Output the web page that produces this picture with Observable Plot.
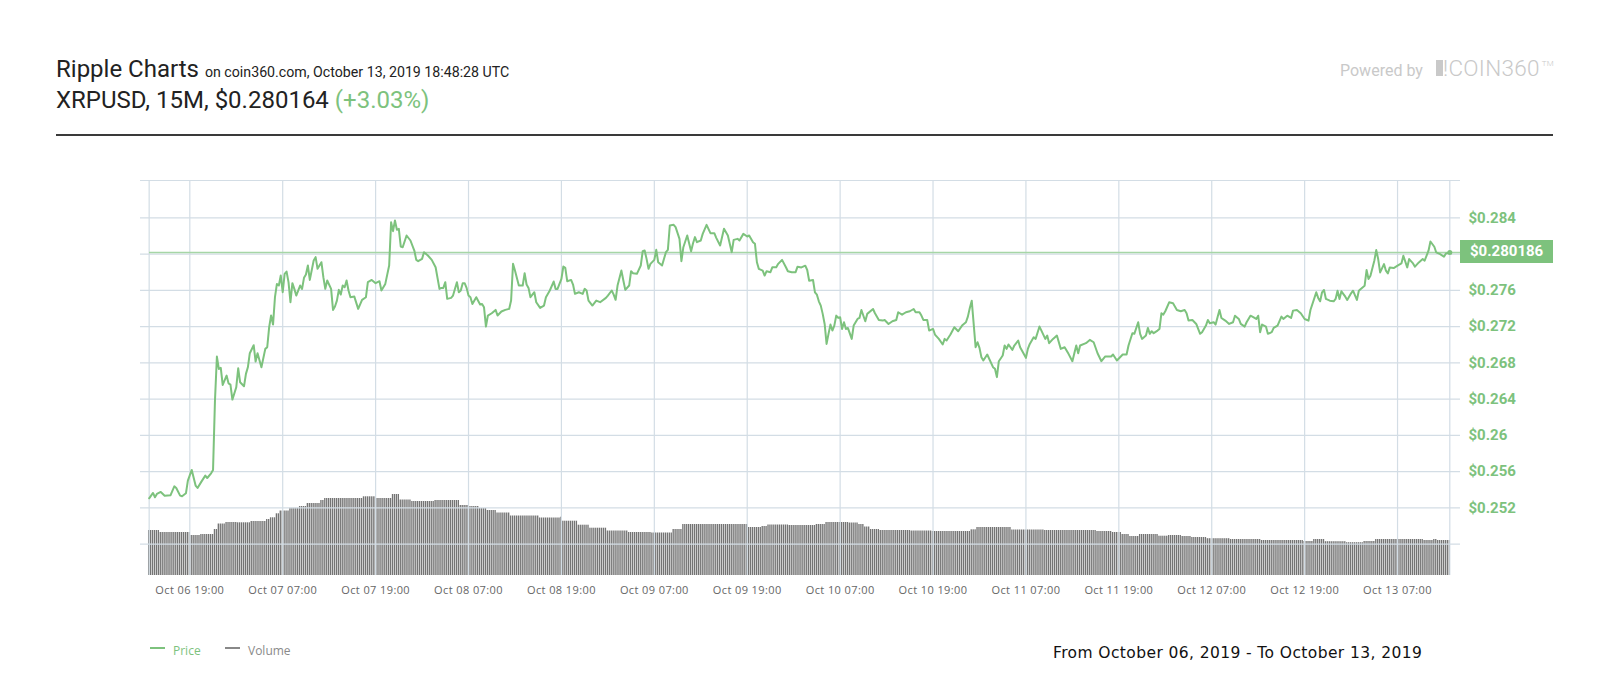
<!DOCTYPE html>
<html>
<head>
<meta charset="utf-8">
<script src="https://cdn.jsdelivr.net/npm/d3@7"></script>
<script src="https://cdn.jsdelivr.net/npm/@observablehq/plot@0.6"></script>
<style>
  html, body { margin: 0; padding: 0; background: #fff; }
  body { width: 1600px; height: 700px; position: relative; overflow: hidden; font-family: Roboto, sans-serif; }
  .abs { position: absolute; white-space: nowrap; line-height: 1; }
  #title { left: 56px; top: 57px; font-size: 24px; color: #222; }
  #title small { font-size: 14.2px; color: #222; }
  #sub { left: 56px; top: 87.5px; font-size: 24px; color: #222; }
  #sub .chg { color: #7dc27d; }
  #rule { position: absolute; left: 56px; top: 134px; width: 1497px; height: 2px; background: #3a3a3a; }
  #powered { left: 1340px; top: 62.5px; font-size: 16px; color: #c9c9c9; }
  #logoBox { position: absolute; left: 1436px; top: 60px; width: 7px; height: 16px; background: #c9c9c9; }
  #logo { left: 1443px; top: 57px; font-size: 22.5px; color: #c9c9c9; font-weight: 300; letter-spacing: 0.3px; }
  #logo sup { font-size: 8px; vertical-align: 10px; margin-left: 2px; }
  .chart { position: absolute; left: 0; top: 150px; }
  #badge { position: absolute; left: 1460px; width: 93px; height: 23px; background: #7dc27d; color: #fff;
           font: bold 15px Roboto, sans-serif; line-height: 23px; padding-left: 10px; box-sizing: border-box; }
  .legend { top: 642px; font: 12px "Open Sans", sans-serif; }
  .dash { position: absolute; top: 647px; width: 15px; height: 2px; }
  #range { left: 1053px; top: 644px; font: 15.5px "DejaVu Sans", sans-serif; color: #111; letter-spacing: 0.4px; }
  svg.price g[aria-label="y-axis tick label"] { fill: #7dc27d; font: bold 15px Roboto, sans-serif; }
  svg.price g[aria-label="x-axis tick label"] { fill: #666; font: 11px "Open Sans", sans-serif; letter-spacing: 0.4px; }
</style>
</head>
<body>
<div class="abs" id="title">Ripple Charts <small>on coin360.com, October 13, 2019 18:48:28 UTC</small></div>
<div class="abs" id="sub">XRPUSD, 15M, $0.280164 <span class="chg">(+3.03%)</span></div>
<div id="rule"></div>
<div class="abs" id="powered">Powered by</div>
<div id="logoBox"></div>
<div class="abs" id="logo">!COIN360<sup>TM</sup></div>
<div id="volHost"></div>
<div id="priceHost"></div>
<div class="dash" style="left:150px;background:#7dc27d"></div>
<div class="abs legend" style="left:173px;color:#7dc27d">Price</div>
<div class="dash" style="left:225px;background:#888"></div>
<div class="abs legend" style="left:248px;color:#8a8a8a">Volume</div>
<div class="abs" id="range">From October 06, 2019 - To October 13, 2019</div>

<script>
// ---------- DATA ----------
const seriesStart = "2019-10-06 13:45";   // first 15M bar
const barMinutes = 15;
const barCount = 672;
const currentPrice = 0.280186;

const xTickLabels = ["Oct 06 19:00","Oct 07 07:00","Oct 07 19:00","Oct 08 07:00","Oct 08 19:00","Oct 09 07:00",
  "Oct 09 19:00","Oct 10 07:00","Oct 10 19:00","Oct 11 07:00","Oct 11 19:00","Oct 12 07:00","Oct 12 19:00","Oct 13 07:00"];
const yGridLines = [0.248,0.252,0.256,0.26,0.264,0.268,0.272,0.276,0.28,0.284];
const yTickLabels = [0.252,0.256,0.26,0.264,0.268,0.272,0.276,0.284];   // $0.28 sits under the price badge
const yDomain = [0.24453, 0.28812];

// [bar index since seriesStart, price USD]
const pricePoints = [
[0,0.25305],[2,0.25364],[3,0.25316],[4,0.25353],[6,0.25375],[8,0.25334],[11,0.25338],[13,0.25437],[14,0.25419],[16,0.25334],
[17,0.25327],[19,0.2536],[20,0.255],[22,0.25618],[24,0.25445],[25,0.25419],[27,0.25489],[29,0.25555],[30,0.25529],[32,0.25581],
[33,0.25618],[34,0.26383],[35,0.26869],[36,0.26733],[37,0.26744],[38,0.26556],[40,0.26659],[41,0.26574],[42,0.2656],[43,0.26394],
[45,0.2653],[46,0.2674],[47,0.26585],[49,0.26541],[50,0.26678],[51,0.26751],[52,0.26906],[54,0.26994],[55,0.26814],[56,0.26906],
[58,0.26751],[60,0.26954],[61,0.26972],[62,0.27193],[63,0.27322],[64,0.27222],[65,0.27524],[66,0.27671],[67,0.27653],[68,0.27763],
[69,0.27579],[70,0.27782],[71,0.27807],[72,0.2769],[73,0.27469],[74,0.27679],[75,0.27616],[76,0.27542],[78,0.27653],[79,0.27616],
[80,0.27738],[81,0.27774],[82,0.27874],[83,0.27715],[85,0.27929],[86,0.27966],[87,0.27837],[89,0.2791],[90,0.27745],[91,0.27616],
[92,0.27708],[94,0.27616],[95,0.27384],[96,0.27421],[97,0.27487],[98,0.27605],[99,0.27553],[100,0.27653],[101,0.27634],[102,0.27708],
[103,0.27598],[104,0.27524],[106,0.27531],[108,0.27395],[110,0.27495],[112,0.27524],[113,0.2769],[115,0.27715],[117,0.27679],[119,0.27701],
[120,0.27598],[122,0.27671],[124,0.27874],[125,0.28352],[126,0.28253],[127,0.28371],[128,0.28268],[129,0.28279],[130,0.28083],[131,0.28076],
[133,0.28205],[135,0.2815],[137,0.28039],[138,0.27936],[139,0.27922],[141,0.27947],[142,0.28021],[144,0.27984],[146,0.27936],[148,0.27855],
[150,0.27616],[151,0.27627],[152,0.27627],[153,0.2769],[154,0.27506],[156,0.27517],[157,0.27542],[159,0.2769],[160,0.27579],[161,0.27598],
[162,0.27679],[163,0.27679],[164,0.27627],[165,0.27542],
[166,0.27524],[167,0.2745],[169,0.27524],[171,0.27443],[172,0.2745],[173,0.27414],[174,0.272],[175,0.27322],[177,0.27347],[179,0.27384],
[180,0.27322],[182,0.27366],[184,0.27384],[186,0.27395],[187,0.27487],[188,0.27892],[189,0.27818],[191,0.27653],[193,0.27653],[194,0.27789],
[195,0.27664],[196,0.27627],[197,0.27524],[199,0.27579],[200,0.27469],[202,0.27406],[204,0.27432],[205,0.27524],[207,0.27598],[209,0.27697],
[210,0.27616],[211,0.27616],[213,0.27726],[214,0.27863],[215,0.27848],[216,0.27701],[218,0.27715],[219,0.27664],[220,0.27561],[222,0.27579],
[224,0.27561],[225,0.27616],[226,0.27598],[227,0.27487],[229,0.27432],[231,0.27487],[233,0.27469],[236,0.27517],[237,0.27542],[239,0.27598],
[240,0.27553],[241,0.27495],[242,0.27653],[244,0.27818],[245,0.27708],[246,0.27605],[248,0.27653],[249,0.27811],[250,0.27789],[252,0.27782],
[254,0.27874],[255,0.28032],[256,0.2804],[257,0.27947],[258,0.27837],[259,0.27892],[261,0.27936],[262,0.28047],[263,0.2791],[265,0.27874],
[267,0.28021],[268,0.28047],[269,0.28315],[271,0.28323],[272,0.28297],[274,0.28168],[275,0.27922],[276,0.28076],[278,0.28205],[280,0.28032],
[281,0.2812],[282,0.28187],[283,0.28131],[285,0.2815],[286,0.28223],[288,0.28323],[290,0.28231],[292,0.28231],[293,0.28179],[295,0.28095],
[297,0.28279],[299,0.28205],[301,0.28021],[302,0.28157],[304,0.28168],[305,0.2815],[307,0.28223],[309,0.28194],[310,0.28205],[312,0.28131],
[313,0.28113],[314,0.2791],[315,0.27837],[317,0.27818],[318,0.27763],[319,0.27811],[321,0.278],[322,0.27855],[324,0.27855],[325,0.27892],
[327,0.27936],[329,0.27855],[330,0.27811],[332,0.278],[334,0.278],
[335,0.27861],[337,0.27853],[339,0.27872],[340,0.27824],[341,0.27706],[343,0.27714],[344,0.27578],[345,0.27552],[346,0.27479],[347,0.27431],
[348,0.2734],[349,0.27229],[350,0.27009],[351,0.27119],[352,0.27222],[353,0.27156],[354,0.27211],[355,0.27321],[356,0.27296],[357,0.27303],
[358,0.27174],[359,0.27248],[360,0.27174],[361,0.27185],[363,0.27064],[364,0.27211],[366,0.27284],[367,0.27295],[368,0.27383],[370,0.27259],
[371,0.2734],[374,0.27394],[375,0.27347],[377,0.27273],[379,0.27266],[380,0.27273],[382,0.27229],[384,0.27259],[386,0.27273],[387,0.27358],
[389,0.27332],[391,0.27358],[393,0.27369],[395,0.27394],[396,0.27358],[398,0.27358],[399,0.27321],[400,0.27273],[402,0.27273],[403,0.27156],
[405,0.27174],[406,0.27112],[408,0.27064],[410,0.27002],[411,0.27064],[412,0.27046],[414,0.27112],[416,0.27193],[418,0.27149],[420,0.27211],
[422,0.27248],[423,0.2731],[424,0.27406],[425,0.27486],[426,0.27229],[427,0.26972],[428,0.27027],[429,0.26965],[430,0.26862],[431,0.26826],
[433,0.26892],[436,0.26752],[437,0.26734],[438,0.26642],[439,0.26818],[441,0.26881],[442,0.26991],[443,0.26954],[444,0.27002],[446,0.26943],
[447,0.26991],[449,0.27046],[450,0.26972],[453,0.26855],[454,0.26954],[455,0.27009],[457,0.27083],[458,0.27064],[460,0.272],[461,0.27156],
[463,0.27064],[464,0.27101],[465,0.27017],[467,0.27064],[469,0.27101],[471,0.26954],[473,0.26972],[475,0.26899],[477,0.26818],[479,0.26991],
[480,0.26906],[481,0.26991],[484,0.27017],[486,0.27053],[488,0.27027],[490,0.26906],[492,0.26818],[494,0.2687],[497,0.2687],[498,0.26892],
[500,0.26826],[503,0.26892],
[505,0.26892],[506,0.26991],[508,0.27127],[509,0.2712],[511,0.27248],[512,0.2712],[513,0.27064],[515,0.27101],[516,0.27185],[517,0.2712],
[518,0.27149],[519,0.27127],[521,0.27156],[522,0.27174],[523,0.27347],[524,0.27332],[525,0.27369],[527,0.27468],[529,0.27457],[531,0.27383],
[533,0.27369],[535,0.27383],[536,0.27347],[537,0.27266],[539,0.27273],[541,0.27229],[543,0.2712],[544,0.27138],[546,0.27211],[547,0.27273],
[548,0.27237],[550,0.27248],[551,0.27222],[553,0.27383],[554,0.27295],[556,0.27266],[558,0.27229],[560,0.27248],[561,0.2732],[563,0.27284],
[564,0.27229],[566,0.272],[567,0.27248],[569,0.2732],[570,0.27309],[572,0.27284],[573,0.2732],[574,0.27138],[575,0.27222],[577,0.272],
[578,0.2712],[580,0.27138],[581,0.27185],[583,0.27211],[585,0.2731],[586,0.27284],[588,0.2732],[590,0.27295],[591,0.27376],[593,0.27383],
[595,0.27347],[597,0.27284],[599,0.27266],[600,0.27383],[603,0.27578],[604,0.27516],[605,0.27479],[606,0.27578],[607,0.27604],[608,0.27505],
[610,0.27486],[612,0.27479],[613,0.27505],[614,0.27596],[615,0.27505],[616,0.27589],[618,0.2753],[619,0.27494],[621,0.27567],[622,0.27596],
[624,0.27494],[625,0.27596],[626,0.27615],[628,0.27651],[629,0.27824],[630,0.27725],[631,0.27761],[633,0.27927],[634,0.28044],[635,0.27945],
[636,0.27798],[638,0.2789],[639,0.27817],[640,0.27787],[641,0.27853],[643,0.27846],[645,0.27872],[647,0.27897],[648,0.27982],[650,0.27853],
[651,0.27945],[653,0.27897],[654,0.27861],[656,0.27908],[658,0.27945],[659,0.27927],[661,0.28037],[662,0.28139],[664,0.28081],[665,0.28018],
[667,0.28],[669,0.27971],[670,0.28007],[672,0.280186]
];

// Volume (relative units), given as runs: value holds from the listed bar index onward
const volumeRunStart = [0,6,22,27,34,36,40,46,53,61,63,66,68,73,78,82,89,91,111,118,126,130,136,148,161,166,171,175,180,187,
  202,213,214,222,228,237,248,260,271,276,310,317,320,331,345,350,362,367,370,373,378,394,405,425,428,446,463,490,498,503,
  507,512,522,527,534,539,547,559,575,597,602,608,619,628,634,659,664,666];
const volumeRunValue = [45,43,40,41,46,51.5,53,52.7,54,56,57.7,61.7,64.5,67.3,69,72,75,77,78.7,77,81,75.5,74,75,70,69,67,65,62.5,59.5,
  57.5,58.3,54.3,50.3,47.3,44.5,43,42.5,46,51,48,49,50.5,50,51,53,52.5,51,48.5,46,45,44.5,44,45.7,48,45.5,45,44,43,41,
  39,41,39.3,40,39,38,36.8,36,35,34,36,33.8,32.8,34,36,35,36,35];

// ---------- BUILD ----------
const parseStart = d3.utcParse("%Y-%m-%d %H:%M");
const t0 = parseStart(seriesStart);
const step = barMinutes * 60 * 1000;
const tOf = b => new Date(+t0 + b * step);
const parseTick = d3.utcParse("%Y %b %d %H:%M");
const xTickDates = xTickLabels.map(s => parseTick("2019 " + s));

const prices = pricePoints.map(([b, p]) => ({t: tOf(b), p}));
const volBars = d3.range(0, barCount + 1).map(b => ({
  t: tOf(b),
  v: volumeRunValue[d3.bisectRight(volumeRunStart, b) - 1]
}));

const W = 1600, H = 460;
const common = {width: W, height: H, marginTop: 30, marginBottom: 35, marginLeft: 140, marginRight: 140};
const xRange = [148.66, 1449.3];

const volChart = Plot.plot({
  ...common,
  style: {background: "transparent"},
  x: {type: "utc", domain: [tOf(0), tOf(barCount)], range: xRange, axis: null},
  y: {domain: [0, 100], range: [425, 325], axis: null},
  marks: [
    Plot.rectY(volBars, {
      x1: d => new Date(+d.t - step / 2), x2: d => new Date(+d.t + step / 2),
      y: "v", fill: "#747474", insetLeft: 0.3, insetRight: 0.3
    })
  ]
});
volChart.classList.add("chart");
document.getElementById("volHost").appendChild(volChart);

const grid = "#d3dde5";
const priceChart = Plot.plot({
  ...common,
  style: {background: "transparent", overflow: "visible"},
  x: {type: "utc", domain: [tOf(0), tOf(barCount)], range: xRange},
  y: {domain: yDomain, range: [425, 30]},
  marks: [
    Plot.ruleY([...yGridLines, yDomain[1]], {stroke: grid, strokeWidth: 1.2}),
    Plot.ruleX([tOf(0), ...xTickDates, tOf(barCount)], {stroke: grid, strokeWidth: 1.2}),
    Plot.ruleY([currentPrice], {stroke: "#a6d6a6", strokeWidth: 1.5, insetLeft: 9}),
    Plot.line(prices, {x: "t", y: "p", stroke: "#7dc27d", strokeWidth: 2, strokeLinejoin: "round"}),
    Plot.dot(prices.slice(-1), {x: "t", y: "p", r: 2.5, fill: "#7dc27d"}),
    Plot.axisX({ticks: xTickDates, tickFormat: d3.utcFormat("%b %d %H:%M"), tickSize: 0, tickPadding: 10.7,
      label: null, fontSize: 11, fill: "#666"}),
    Plot.axisY({anchor: "right", ticks: yTickLabels, tickFormat: d => "$" + (+d.toFixed(3)), tickSize: 0,
      tickPadding: 8, label: null, fontSize: 15, fontWeight: "bold", fill: "#7dc27d"})
  ]
});
priceChart.classList.add("chart", "price");
document.getElementById("priceHost").appendChild(priceChart);

// badge for current price, positioned with the plot's own y scale
const yPix = priceChart.scale("y").apply(currentPrice);
const badge = document.createElement("div");
badge.id = "badge";
badge.textContent = "$" + currentPrice;
badge.style.top = (150 + yPix - 11.5) + "px";
document.body.appendChild(badge);
</script>
</body>
</html>
